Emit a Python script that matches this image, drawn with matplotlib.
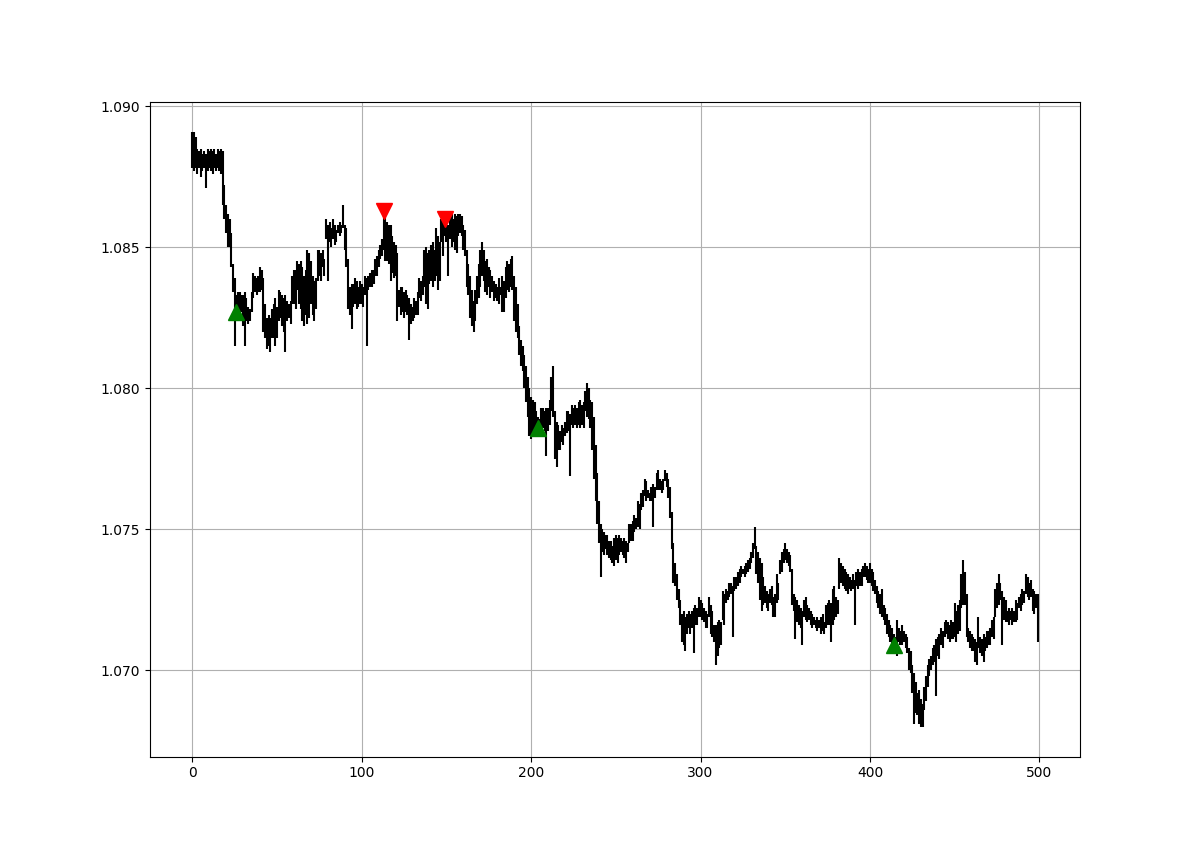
import numpy as np
import matplotlib.pyplot as plt

# bar highs and lows (500 bars)
highs = [
    1.0891, 1.0891, 1.0889, 1.0885, 1.0884, 1.0885, 1.0883, 1.0884, 1.0883, 1.0885,
    1.0884, 1.0885, 1.0884, 1.0885, 1.0883, 1.0885, 1.0884, 1.0885, 1.0884, 1.0872,
    1.0865, 1.0862, 1.0860, 1.0855, 1.0844, 1.0839, 1.0833, 1.0834, 1.0834, 1.0833,
    1.0833, 1.0834, 1.0832, 1.0829, 1.0828, 1.0834, 1.0841, 1.0840, 1.0839, 1.0840,
    1.0843, 1.0842, 1.0839, 1.0830, 1.0825, 1.0826, 1.0825, 1.0828, 1.0830, 1.0832,
    1.0829, 1.0835, 1.0834, 1.0833, 1.0832, 1.0833, 1.0831, 1.0830, 1.0831, 1.0840,
    1.0842, 1.0842, 1.0845, 1.0844, 1.0845, 1.0843, 1.0840, 1.0842, 1.0849, 1.0848,
    1.0845, 1.0840, 1.0838, 1.0839, 1.0849, 1.0849, 1.0848, 1.0849, 1.0846, 1.0860,
    1.0858, 1.0859, 1.0857, 1.0860, 1.0858, 1.0856, 1.0858, 1.0859, 1.0858, 1.0865,
    1.0858, 1.0857, 1.0846, 1.0836, 1.0837, 1.0837, 1.0839, 1.0838, 1.0836, 1.0838,
    1.0837, 1.0836, 1.0840, 1.0839, 1.0840, 1.0841, 1.0842, 1.0842, 1.0846, 1.0847,
    1.0849, 1.0851, 1.0853, 1.0862, 1.0861, 1.0859, 1.0858, 1.0858, 1.0854, 1.0852,
    1.0851, 1.0848, 1.0835, 1.0836, 1.0836, 1.0834, 1.0835, 1.0833, 1.0832, 1.0830,
    1.0829, 1.0832, 1.0831, 1.0834, 1.0839, 1.0838, 1.0840, 1.0849, 1.0850, 1.0848,
    1.0849, 1.0851, 1.0852, 1.0849, 1.0857, 1.0854, 1.0852, 1.0860, 1.0859, 1.0860,
    1.0859, 1.0858, 1.0861, 1.0862, 1.0860, 1.0862, 1.0861, 1.0862, 1.0862, 1.0861,
    1.0858, 1.0856, 1.0849, 1.0844, 1.0840, 1.0835, 1.0831, 1.0835, 1.0840, 1.0844,
    1.0849, 1.0852, 1.0849, 1.0845, 1.0846, 1.0843, 1.0842, 1.0840, 1.0838, 1.0837,
    1.0836, 1.0839, 1.0836, 1.0840, 1.0838, 1.0843, 1.0845, 1.0844, 1.0846, 1.0847,
    1.0840, 1.0836, 1.0830, 1.0822, 1.0817, 1.0815, 1.0812, 1.0808, 1.0804, 1.0800,
    1.0797, 1.0796, 1.0795, 1.0792, 1.0790, 1.0789, 1.0793, 1.0793, 1.0792, 1.0793,
    1.0793, 1.0796, 1.0804, 1.0808, 1.0792, 1.0788, 1.0787, 1.0785, 1.0787, 1.0786,
    1.0788, 1.0792, 1.0792, 1.0791, 1.0794, 1.0793, 1.0794, 1.0793, 1.0795, 1.0796,
    1.0794, 1.0795, 1.0799, 1.0802, 1.0800, 1.0796, 1.0795, 1.0790, 1.0780, 1.0770,
    1.0760, 1.0752, 1.0750, 1.0749, 1.0748, 1.0748, 1.0746, 1.0746, 1.0744, 1.0747,
    1.0748, 1.0747, 1.0748, 1.0747, 1.0746, 1.0747, 1.0746, 1.0745, 1.0752, 1.0752,
    1.0753, 1.0755, 1.0754, 1.0760, 1.0759, 1.0763, 1.0764, 1.0768, 1.0767, 1.0764,
    1.0763, 1.0765, 1.0766, 1.0765, 1.0770, 1.0771, 1.0768, 1.0767, 1.0768, 1.0771,
    1.0770, 1.0768, 1.0765, 1.0756, 1.0745, 1.0738, 1.0734, 1.0729, 1.0725, 1.0720,
    1.0721, 1.0719, 1.0720, 1.0721, 1.0720, 1.0721, 1.0722, 1.0723, 1.0722, 1.0726,
    1.0725, 1.0724, 1.0722, 1.0721, 1.0720, 1.0726, 1.0723, 1.0721, 1.0716, 1.0716,
    1.0717, 1.0718, 1.0717, 1.0728, 1.0727, 1.0729, 1.0728, 1.0731, 1.0731, 1.0730,
    1.0733, 1.0733, 1.0735, 1.0736, 1.0737, 1.0736, 1.0737, 1.0738, 1.0739, 1.0740,
    1.0742, 1.0745, 1.0751, 1.0744, 1.0742, 1.0740, 1.0738, 1.0733, 1.0730, 1.0728,
    1.0727, 1.0729, 1.0730, 1.0726, 1.0727, 1.0734, 1.0731, 1.0739, 1.0742, 1.0743,
    1.0745, 1.0743, 1.0742, 1.0741, 1.0736, 1.0727, 1.0726, 1.0725, 1.0723, 1.0722,
    1.0721, 1.0725, 1.0726, 1.0723, 1.0722, 1.0721, 1.0720, 1.0719, 1.0718, 1.0719,
    1.0718, 1.0719, 1.0720, 1.0717, 1.0723, 1.0724, 1.0725, 1.0724, 1.0729, 1.0730,
    1.0726, 1.0725, 1.0740, 1.0738, 1.0737, 1.0736, 1.0735, 1.0734, 1.0733, 1.0732,
    1.0734, 1.0732, 1.0735, 1.0736, 1.0735, 1.0736, 1.0737, 1.0738, 1.0737, 1.0736,
    1.0738, 1.0736, 1.0735, 1.0732, 1.0730, 1.0728, 1.0727, 1.0729, 1.0723, 1.0722,
    1.0720, 1.0718, 1.0716, 1.0715, 1.0713, 1.0712, 1.0718, 1.0715, 1.0714, 1.0716,
    1.0714, 1.0713, 1.0712, 1.0708, 1.0707, 1.0702, 1.0699, 1.0696, 1.0692, 1.0693,
    1.0690, 1.0688, 1.0694, 1.0698, 1.0702, 1.0704, 1.0705, 1.0708, 1.0709, 1.0711,
    1.0712, 1.0713, 1.0715, 1.0714, 1.0717, 1.0718, 1.0717, 1.0716, 1.0718, 1.0717,
    1.0724, 1.0721, 1.0723, 1.0725, 1.0734, 1.0739, 1.0735, 1.0727, 1.0715, 1.0714,
    1.0713, 1.0712, 1.0711, 1.0710, 1.0719, 1.0712, 1.0711, 1.0713, 1.0712, 1.0714,
    1.0714, 1.0715, 1.0718, 1.0719, 1.0729, 1.0731, 1.0734, 1.0731, 1.0728, 1.0726,
    1.0725, 1.0721, 1.0722, 1.0721, 1.0722, 1.0721, 1.0725, 1.0724, 1.0726, 1.0727,
    1.0729, 1.0728, 1.0734, 1.0733, 1.0731, 1.0732, 1.0729, 1.0728, 1.0727, 1.0727,
]

lows = [
    1.0878, 1.0877, 1.0878, 1.0876, 1.0878, 1.0875, 1.0877, 1.0878, 1.0871, 1.0877,
    1.0878, 1.0877, 1.0876, 1.0878, 1.0877, 1.0878, 1.0877, 1.0876, 1.0865, 1.0860,
    1.0855, 1.0850, 1.0850, 1.0843, 1.0834, 1.0815, 1.0825, 1.0827, 1.0826, 1.0827,
    1.0822, 1.0815, 1.0824, 1.0823, 1.0824, 1.0827, 1.0832, 1.0834, 1.0833, 1.0834,
    1.0834, 1.0835, 1.0820, 1.0818, 1.0814, 1.0815, 1.0813, 1.0818, 1.0818, 1.0815,
    1.0818, 1.0824, 1.0825, 1.0822, 1.0820, 1.0813, 1.0824, 1.0825, 1.0823, 1.0830,
    1.0830, 1.0828, 1.0835, 1.0830, 1.0828, 1.0824, 1.0822, 1.0826, 1.0823, 1.0825,
    1.0830, 1.0826, 1.0824, 1.0828, 1.0838, 1.0840, 1.0838, 1.0843, 1.0840, 1.0853,
    1.0838, 1.0852, 1.0850, 1.0853, 1.0851, 1.0852, 1.0855, 1.0854, 1.0855, 1.0857,
    1.0849, 1.0843, 1.0828, 1.0826, 1.0821, 1.0829, 1.0830, 1.0828, 1.0829, 1.0830,
    1.0830, 1.0829, 1.0833, 1.0815, 1.0835, 1.0836, 1.0836, 1.0837, 1.0840, 1.0840,
    1.0843, 1.0846, 1.0847, 1.0849, 1.0845, 1.0845, 1.0844, 1.0838, 1.0841, 1.0839,
    1.0840, 1.0824, 1.0829, 1.0826, 1.0827, 1.0825, 1.0827, 1.0826, 1.0817, 1.0823,
    1.0824, 1.0825, 1.0826, 1.0826, 1.0832, 1.0831, 1.0833, 1.0836, 1.0830, 1.0828,
    1.0837, 1.0838, 1.0836, 1.0838, 1.0840, 1.0835, 1.0838, 1.0852, 1.0847, 1.0854,
    1.0852, 1.0840, 1.0853, 1.0850, 1.0852, 1.0849, 1.0848, 1.0854, 1.0855, 1.0854,
    1.0849, 1.0847, 1.0836, 1.0833, 1.0825, 1.0822, 1.0820, 1.0824, 1.0830, 1.0832,
    1.0836, 1.0840, 1.0838, 1.0834, 1.0833, 1.0836, 1.0832, 1.0834, 1.0831, 1.0832,
    1.0831, 1.0830, 1.0833, 1.0827, 1.0827, 1.0832, 1.0835, 1.0834, 1.0836, 1.0835,
    1.0824, 1.0820, 1.0818, 1.0812, 1.0808, 1.0806, 1.0800, 1.0795, 1.0790, 1.0783,
    1.0782, 1.0784, 1.0785, 1.0784, 1.0783, 1.0784, 1.0785, 1.0786, 1.0785, 1.0776,
    1.0785, 1.0787, 1.0792, 1.0790, 1.0775, 1.0772, 1.0778, 1.0778, 1.0781, 1.0780,
    1.0783, 1.0784, 1.0785, 1.0769, 1.0787, 1.0786, 1.0787, 1.0786, 1.0787, 1.0786,
    1.0787, 1.0786, 1.0792, 1.0790, 1.0789, 1.0786, 1.0778, 1.0768, 1.0760, 1.0752,
    1.0745, 1.0733, 1.0742, 1.0741, 1.0743, 1.0741, 1.0740, 1.0739, 1.0738, 1.0737,
    1.0739, 1.0738, 1.0741, 1.0742, 1.0741, 1.0740, 1.0738, 1.0742, 1.0745, 1.0746,
    1.0746, 1.0749, 1.0750, 1.0751, 1.0750, 1.0757, 1.0758, 1.0762, 1.0760, 1.0761,
    1.0760, 1.0760, 1.0751, 1.0761, 1.0764, 1.0764, 1.0764, 1.0763, 1.0764, 1.0767,
    1.0765, 1.0761, 1.0754, 1.0743, 1.0731, 1.0730, 1.0725, 1.0722, 1.0716, 1.0710,
    1.0709, 1.0707, 1.0713, 1.0715, 1.0713, 1.0715, 1.0706, 1.0716, 1.0716, 1.0719,
    1.0719, 1.0718, 1.0717, 1.0715, 1.0715, 1.0719, 1.0713, 1.0712, 1.0710, 1.0702,
    1.0705, 1.0708, 1.0709, 1.0718, 1.0716, 1.0724, 1.0725, 1.0726, 1.0727, 1.0712,
    1.0728, 1.0729, 1.0730, 1.0731, 1.0733, 1.0734, 1.0733, 1.0734, 1.0735, 1.0736,
    1.0738, 1.0740, 1.0743, 1.0734, 1.0731, 1.0725, 1.0721, 1.0723, 1.0724, 1.0722,
    1.0721, 1.0724, 1.0723, 1.0719, 1.0719, 1.0724, 1.0725, 1.0734, 1.0735, 1.0738,
    1.0739, 1.0738, 1.0737, 1.0735, 1.0723, 1.0721, 1.0711, 1.0717, 1.0716, 1.0715,
    1.0709, 1.0719, 1.0718, 1.0717, 1.0718, 1.0716, 1.0715, 1.0716, 1.0715, 1.0714,
    1.0715, 1.0713, 1.0714, 1.0713, 1.0715, 1.0716, 1.0716, 1.0710, 1.0716, 1.0718,
    1.0719, 1.0720, 1.0729, 1.0731, 1.0730, 1.0729, 1.0728, 1.0727, 1.0729, 1.0728,
    1.0729, 1.0716, 1.0730, 1.0729, 1.0730, 1.0730, 1.0733, 1.0733, 1.0732, 1.0731,
    1.0731, 1.0730, 1.0728, 1.0727, 1.0724, 1.0722, 1.0720, 1.0719, 1.0718, 1.0716,
    1.0713, 1.0712, 1.0710, 1.0709, 1.0708, 1.0707, 1.0705, 1.0710, 1.0709, 1.0709,
    1.0710, 1.0708, 1.0706, 1.0700, 1.0699, 1.0692, 1.0681, 1.0685, 1.0684, 1.0681,
    1.0680, 1.0680, 1.0686, 1.0689, 1.0694, 1.0698, 1.0700, 1.0702, 1.0703, 1.0691,
    1.0705, 1.0704, 1.0709, 1.0708, 1.0712, 1.0713, 1.0711, 1.0710, 1.0711, 1.0711,
    1.0712, 1.0710, 1.0713, 1.0714, 1.0722, 1.0723, 1.0723, 1.0712, 1.0710, 1.0708,
    1.0707, 1.0707, 1.0703, 1.0702, 1.0708, 1.0706, 1.0705, 1.0703, 1.0707, 1.0708,
    1.0709, 1.0709, 1.0712, 1.0711, 1.0719, 1.0722, 1.0723, 1.0725, 1.0709, 1.0718,
    1.0717, 1.0717, 1.0716, 1.0718, 1.0716, 1.0717, 1.0717, 1.0718, 1.0722, 1.0721,
    1.0723, 1.0724, 1.0727, 1.0726, 1.0725, 1.0726, 1.0721, 1.0720, 1.0722, 1.0710,
]

# signals
buy_idx = [26, 204, 414]
buy_val = [1.0827, 1.0786, 1.0709]
sell_idx = [113, 149]
sell_val = [1.0863, 1.0860]

x = np.arange(len(highs))

fig, ax = plt.subplots(figsize=(12, 8.5), dpi=100)

ax.vlines(x=x, ymin=lows, ymax=highs, color="black", linewidth=1.5)
ax.plot(buy_idx, buy_val, "^", color="green", markersize=11, linestyle="none")
ax.plot(sell_idx, sell_val, "v", color="red", markersize=11, linestyle="none")

ax.grid(True)

fig.savefig("out.png", dpi=100)
